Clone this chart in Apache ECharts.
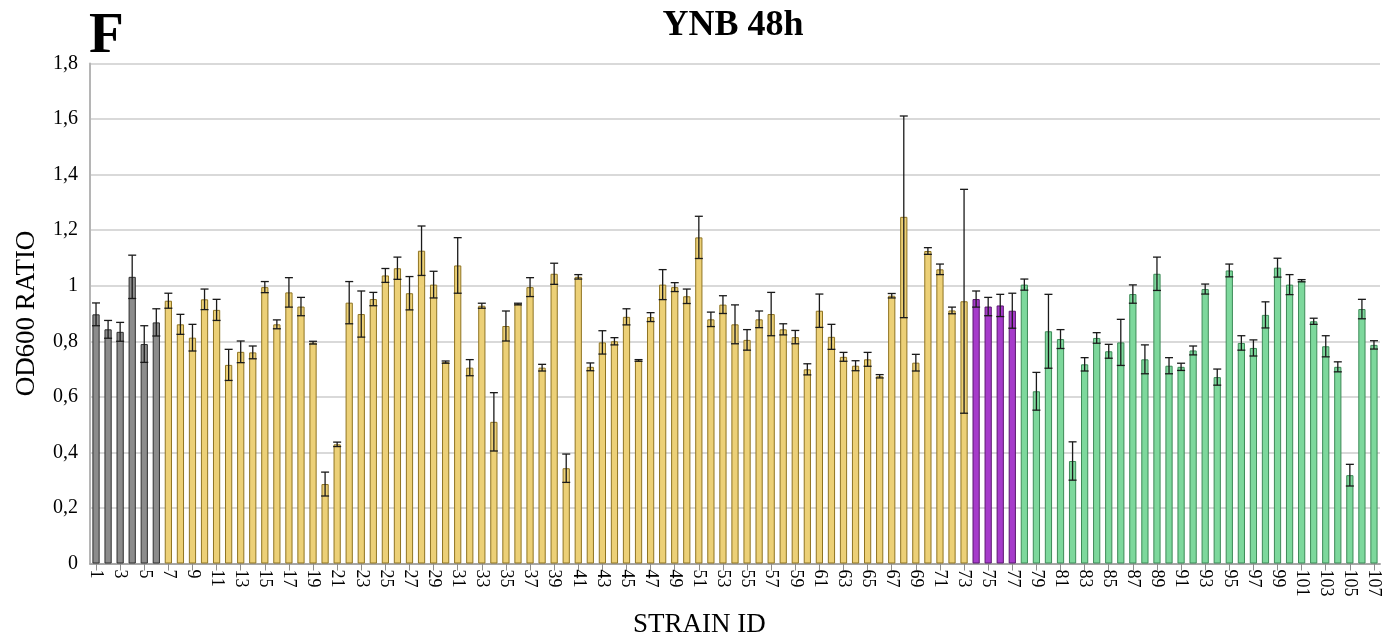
<!DOCTYPE html>
<html>
<head>
<meta charset="utf-8">
<script src="https://cdn.jsdelivr.net/npm/echarts@6/dist/echarts.min.js"></script>
<style>
html,body{margin:0;padding:0;background:#fff;}
#chart{width:1386px;height:640px;}
</style>
</head>
<body>
<div id="chart"></div>
<script>
const strainIds = [1,2,3,4,5,6,7,8,9,10,11,12,13,14,15,16,17,18,19,20,21,22,23,24,25,26,27,28,29,30,31,32,33,34,35,36,37,38,39,40,41,42,43,44,45,46,47,48,49,50,51,52,53,54,55,56,57,58,59,60,61,62,63,64,65,66,67,68,69,70,71,72,73,74,75,76,77,78,79,80,81,82,83,84,85,86,87,88,89,90,91,92,93,94,95,96,97,98,99,100,101,102,103,104,105,106,107];

const ratios = [
0.897,0.843,0.834,1.032,0.790,0.868,0.946,0.861,0.813,0.951,
0.913,0.715,0.762,0.760,0.995,0.861,0.976,0.925,0.795,0.286,
0.429,0.939,0.898,0.952,1.037,1.063,0.973,1.126,1.004,0.725,
1.073,0.705,0.928,0.510,0.855,0.934,0.995,0.705,1.043,0.343,
1.032,0.708,0.796,0.800,0.888,0.731,0.887,1.004,0.995,0.962,
1.174,0.879,0.932,0.861,0.805,0.879,0.898,0.843,0.815,0.699,
0.910,0.816,0.744,0.712,0.735,0.674,0.964,1.248,0.723,1.125,
1.059,0.911,0.944,0.952,0.925,0.929,0.910,1.004,0.620,0.836,
0.808,0.369,0.717,0.812,0.764,0.796,0.970,0.735,1.043,0.712,
0.708,0.767,0.988,0.671,1.055,0.794,0.776,0.895,1.065,1.004,
1.018,0.872,0.782,0.708,0.318,0.916,0.787];

const errors = [
0.041,0.032,0.034,0.078,0.066,0.049,0.027,0.036,0.048,0.037,
0.038,0.056,0.039,0.023,0.020,0.016,0.053,0.033,0.005,0.043,
0.008,0.076,0.083,0.024,0.025,0.040,0.060,0.089,0.048,0.004,
0.100,0.029,0.009,0.105,0.054,0.003,0.034,0.012,0.038,0.051,
0.008,0.014,0.042,0.013,0.029,0.003,0.016,0.054,0.016,0.026,
0.076,0.026,0.032,0.070,0.037,0.030,0.078,0.020,0.024,0.020,
0.060,0.045,0.016,0.018,0.025,0.006,0.008,0.363,0.030,0.012,
0.019,0.012,0.403,0.029,0.033,0.040,0.063,0.020,0.068,0.133,
0.034,0.069,0.024,0.019,0.025,0.083,0.033,0.052,0.060,0.029,
0.013,0.016,0.018,0.029,0.023,0.026,0.029,0.047,0.034,0.036,
0.004,0.011,0.038,0.018,0.039,0.035,0.015];

// number of consecutive strains in each group
const groupSizes = [6, 67, 4, 30];

const yTicks = [0, 0.2, 0.4, 0.6, 0.8, 1.0, 1.2, 1.4, 1.6, 1.8];

const groupStyles = [
  {color:'#8c8c8c', borderColor:'#2e2e2e'},
  {color:'#ecd077', borderColor:'#8f7422'},
  {color:'#a63bcb', borderColor:'#5b1670'},
  {color:'#7dd89c', borderColor:'#3d8a57'}
];

const groupIndex = [];
groupSizes.forEach((n, g) => { for (let k = 0; k < n; k++) groupIndex.push(g); });

const barData = ratios.map((v, i) => ({
  value: v,
  itemStyle: Object.assign({borderWidth: 1}, groupStyles[groupIndex[i]])
}));
const errData = ratios.map((v, i) => [i, v - errors[i], v + errors[i]]);

const serif = '"Liberation Serif","DejaVu Serif",serif';
const chart = echarts.init(document.getElementById('chart'));
chart.setOption({
  animation: false,
  backgroundColor: '#fff',
  title: {
    text: 'YNB 48h',
    left: 728, top: 3, textAlign: 'center',
    textStyle: {fontFamily: serif, fontSize: 36, fontWeight: 'bold', color: '#000'}
  },
  graphic: [
    {type:'text', left: 89, top: 9, style:{text:'F', font:'bold 57px ' + serif, fill:'#000'}},
    {type:'text', left: 633, top: 611, style:{text:'STRAIN ID', font:'27px ' + serif, fill:'#000'}}
  ],
  grid: {left: 90, right: 6, top: 63.5, bottom: 76.5, containLabel: false},
  xAxis: {
    type: 'category',
    data: strainIds.map(String),
    axisLine: {show: true, lineStyle: {color: '#a6a6a6', width: 2}},
    axisTick: {show: true, interval: 1, alignWithLabel: true, length: 7, lineStyle: {color: '#8c8c8c'}},
    axisLabel: {interval: 1, rotate: -90, fontFamily: serif, fontSize: 18, color: '#000', margin: 6},
    splitLine: {show: false}
  },
  yAxis: {
    type: 'value',
    min: 0, max: 1.8, interval: 0.2,
    name: 'OD600 RATIO',
    nameLocation: 'middle',
    nameGap: 50,
    nameTextStyle: {fontFamily: serif, fontSize: 27, color: '#000'},
    axisLine: {show: true, lineStyle: {color: '#b5b5b5', width: 2}},
    axisTick: {show: false},
    axisLabel: {
      fontFamily: serif, fontSize: 20, color: '#000', margin: 12,
      formatter: v => {
        const t = yTicks.find(x => Math.abs(x - v) < 1e-6);
        const val = t === undefined ? v : t;
        return val === 0 ? '0' : (Math.abs(val - Math.round(val)) < 1e-6 ? String(Math.round(val)) : val.toFixed(1).replace('.', ','));
      }
    },
    splitLine: {show: true, lineStyle: {color: '#d9d9d9', width: 2}}
  },
  series: [
    {
      type: 'bar',
      data: barData,
      barWidth: '60%',
      z: 2
    },
    {
      type: 'custom',
      data: errData,
      z: 5,
      renderItem: function (params, api) {
        const i = api.value(0);
        const lo = api.coord([i, api.value(1)]);
        const hi = api.coord([i, api.value(2)]);
        const hw = 4;
        const st = {stroke: '#1a1a1a', lineWidth: 1.3};
        return {
          type: 'group',
          children: [
            {type: 'line', shape: {x1: hi[0], y1: hi[1], x2: lo[0], y2: lo[1]}, style: st},
            {type: 'line', shape: {x1: hi[0]-hw, y1: hi[1], x2: hi[0]+hw, y2: hi[1]}, style: st},
            {type: 'line', shape: {x1: lo[0]-hw, y1: lo[1], x2: lo[0]+hw, y2: lo[1]}, style: st}
          ]
        };
      },
      encode: {x: 0, y: [1, 2]}
    }
  ]
});
</script>
</body>
</html>
